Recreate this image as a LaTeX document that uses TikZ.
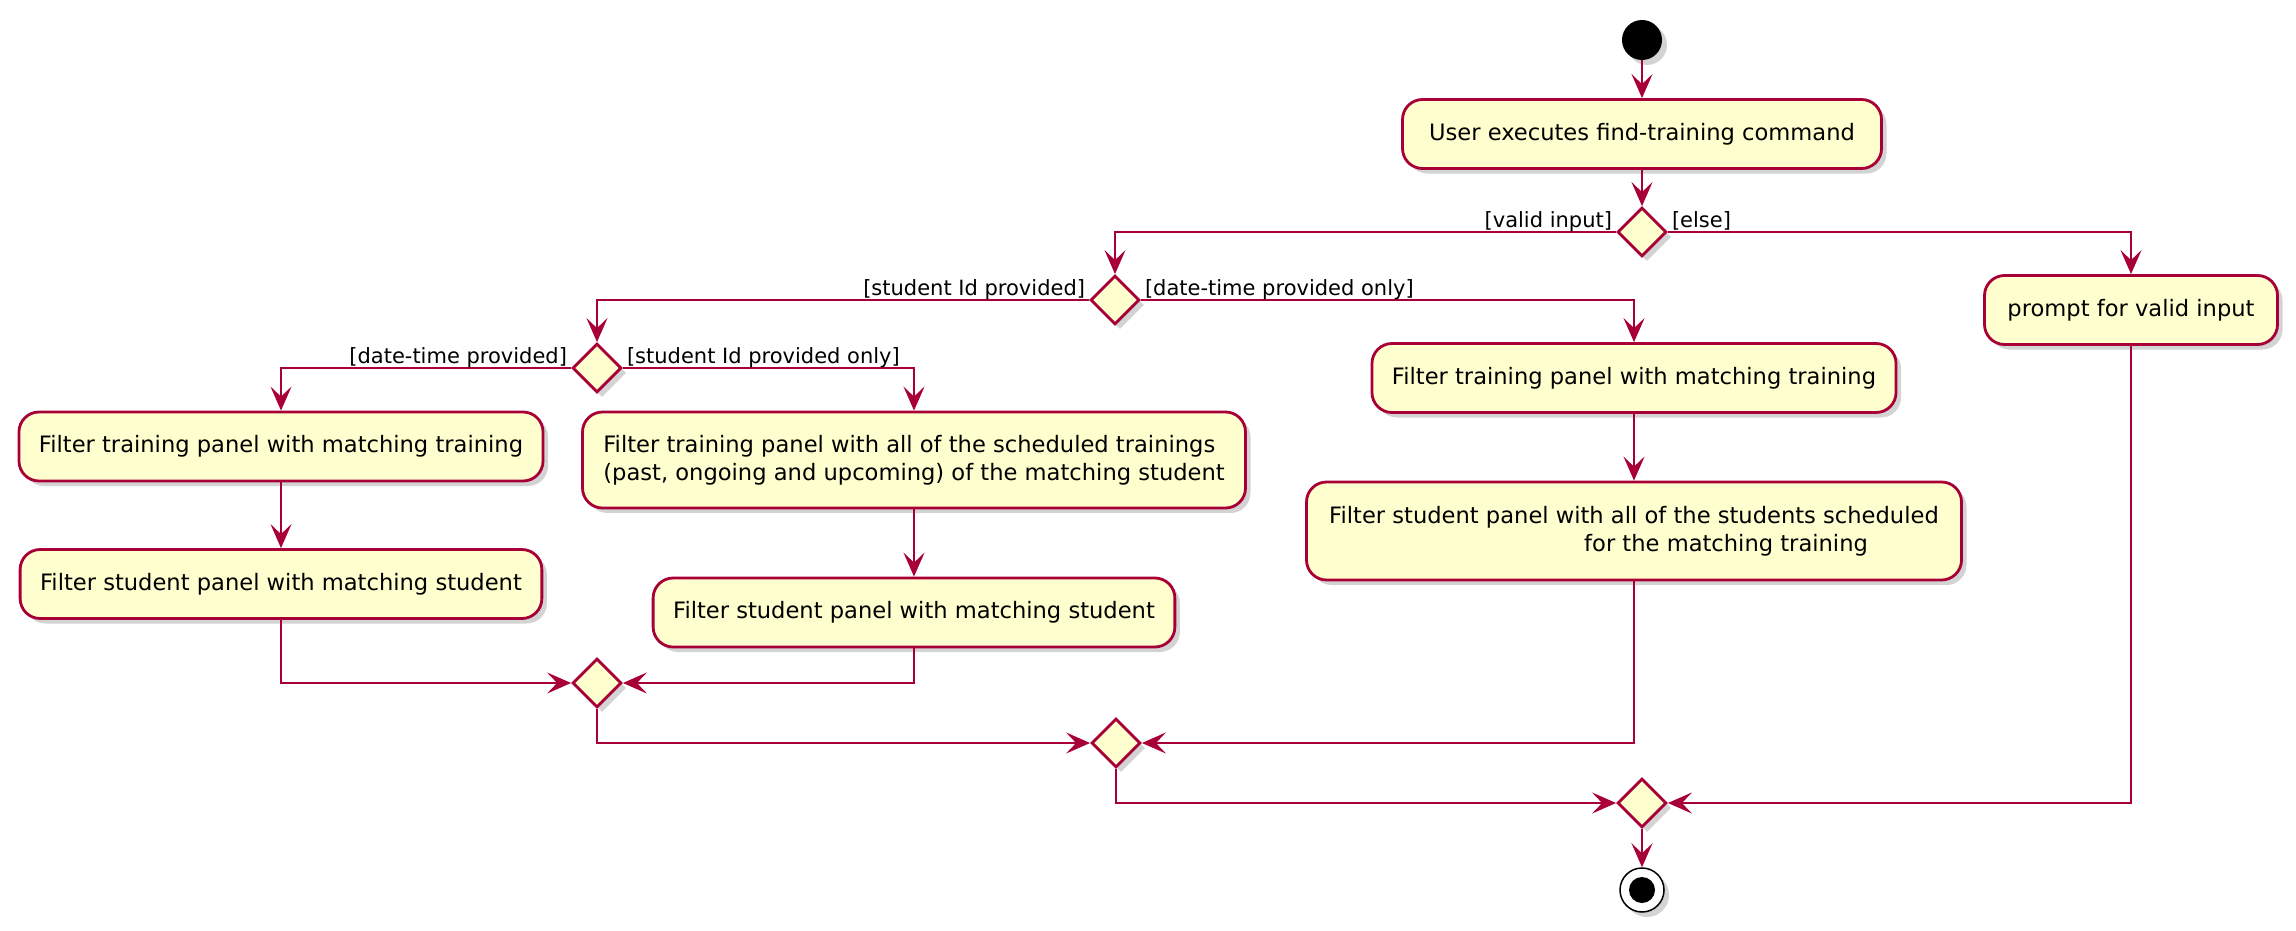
\documentclass[tikz,border=0pt]{standalone}
\usepackage{fontspec}
\setmainfont{DejaVu Sans}
\usetikzlibrary{arrows.meta,shapes.geometric,shadows}
\definecolor{umlred}{HTML}{A80036}
\definecolor{umlfill}{HTML}{FEFECE}

\begin{document}
\begin{tikzpicture}[x=0.5pt,y=-0.5pt,
    shade/.style={drop shadow={shadow xshift=2.5pt,shadow yshift=-2.5pt,opacity=.35}},
    act/.style={draw=umlred,fill=umlfill,line width=1.4pt,rounded corners=10pt,
      minimum height=34.5pt,inner xsep=10pt,shade,
      font=\fontsize{11.3}{14}\selectfont},
    dec/.style={diamond,draw=umlred,fill=umlfill,line width=1.4pt,inner sep=0pt,
      minimum width=24.5pt,minimum height=24.5pt,shade},
    lbl/.style={inner sep=0pt,font=\fontsize{10.5}{12}\selectfont},
    flow/.style={draw=umlred,line width=1.1pt,
      -{Stealth[length=12pt,width=10.5pt,inset=5pt]}}]
  \useasboundingbox (0,0) rectangle (2296,931);

  % start and first action
  \node[circle,fill=black,minimum size=20pt,inner sep=0pt,shade] (start) at (1642,40) {};
  \node[act,minimum width=239.5pt] (cmd) at (1642,134) {User executes find-training command};
  \node[dec] (valid) at (1642,232) {};
  \node[act,minimum width=146.5pt] (prompt) at (2131,310) {prompt for valid input};

  % date-time only
  \node[dec] (which) at (1115,300) {};
  \node[act,minimum width=261pt] (trainR) at (1634,378)
    {Filter training panel with matching training};
  \node[act,minimum width=327.5pt,minimum height=49pt,align=left] (studR) at (1634,531)
    {Filter student panel with all of the students scheduled\\
     \hspace*{127.5pt}for the matching training};

  % student id
  \node[dec] (both) at (597,368) {};
  \node[act,minimum width=260pt] (trainL) at (281,446.5)
    {Filter training panel with matching training};
  \node[act,minimum width=260pt] (studL) at (281,584)
    {Filter student panel with matching student};
  \node[act,minimum width=331.5pt,minimum height=48pt,align=left] (trainM) at (914,460)
    {Filter training panel with all of the scheduled trainings\\
     (past, ongoing and upcoming) of the matching student};
  \node[act,minimum width=256.5pt] (studM) at (914,612.5)
    {Filter student panel with matching student};

  % merges and stop
  \node[dec] (joinId) at (597,683) {};
  \node[dec] (joinFind) at (1116,743) {};
  \node[dec] (joinAll) at (1642,803) {};
  \node[circle,draw=black,fill=white,line width=.75pt,minimum size=22pt,inner sep=0pt,shade]
    (stop) at (1642,890) {};
  \fill (stop) circle (6.5pt);

  % flows
  \draw[flow] (start) -- (cmd);
  \draw[flow] (cmd) -- (valid);
  \draw[flow] (valid.west)
    node[lbl,anchor=base east,xshift=-1.5pt,yshift=2.5pt] {[valid input]} -| (which.north);
  \draw[flow] (valid.east)
    node[lbl,anchor=base west,xshift=1.5pt,yshift=2.5pt] {[else]} -| (prompt.north);
  \draw[flow] (which.west)
    node[lbl,anchor=base east,xshift=-1.5pt,yshift=2.5pt] {[student Id provided]} -| (both.north);
  \draw[flow] (which.east)
    node[lbl,anchor=base west,xshift=1.5pt,yshift=2.5pt] {[date-time provided only]} -| (trainR.north);
  \draw[flow] (both.west)
    node[lbl,anchor=base east,xshift=-1.5pt,yshift=2.5pt] {[date-time provided]} -| (trainL.north);
  \draw[flow] (both.east)
    node[lbl,anchor=base west,xshift=1.5pt,yshift=2.5pt] {[student Id provided only]} -| (trainM.north);
  \draw[flow] (trainL) -- (studL);
  \draw[flow] (trainM) -- (studM);
  \draw[flow] (trainR) -- (studR);
  \draw[flow] (studL.south) |- (joinId.west);
  \draw[flow] (studM.south) |- (joinId.east);
  \draw[flow] (joinId.south) |- (joinFind.west);
  \draw[flow] (studR.south) |- (joinFind.east);
  \draw[flow] (joinFind.south) |- (joinAll.west);
  \draw[flow] (prompt.south) |- (joinAll.east);
  \draw[flow] (joinAll) -- (stop);
\end{tikzpicture}
\end{document}
